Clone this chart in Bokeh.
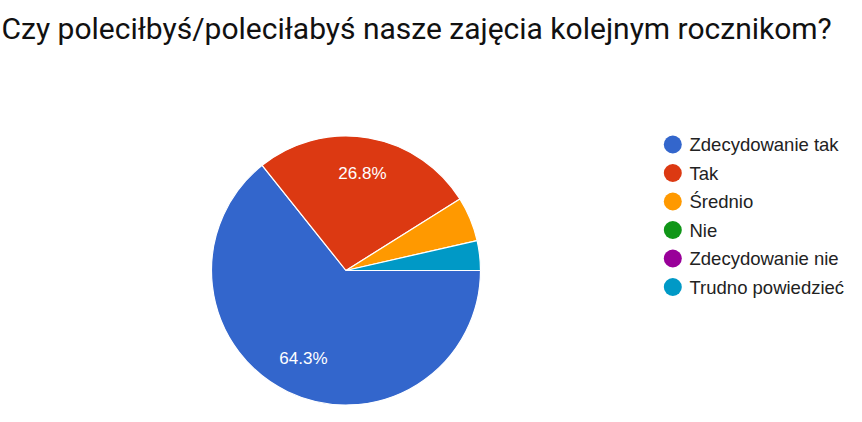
import numpy as np
from bokeh.plotting import figure
from bokeh.models import Range1d, ColumnDataSource, Label
from bokeh.core.properties import value
from bokeh.embed import file_html
from bokeh.resources import INLINE

title_text = "Czy poleciłbyś/poleciłabyś nasze zajęcia kolejnym rocznikom?"
categories = ["Zdecydowanie tak", "Tak", "Średnio", "Nie", "Zdecydowanie nie", "Trudno powiedzieć"]
counts = [36, 15, 3, 0, 0, 2]
colors = ["#3366cc", "#dc3912", "#ff9900", "#109618", "#990099", "#0099c6"]

W, H = 862, 422
p = figure(width=W, height=H, output_backend="svg", toolbar_location=None,
           x_range=Range1d(0, W), y_range=Range1d(0, H), min_border=0,
           outline_line_color=None)
p.axis.visible = False
p.grid.visible = False
p.background_fill_color = "white"
p.border_fill_color = "white"

cx, cy, r = 345.5, H - 270, 134.5
vals = np.array(counts, dtype=float)
frac = vals / vals.sum()
cum = np.concatenate([[0], np.cumsum(frac)])
start = -cum[1:] * 2 * np.pi
end = -cum[:-1] * 2 * np.pi
mask = frac > 0
src = ColumnDataSource(dict(start=start[mask], end=end[mask], color=[c for c, m in zip(colors, mask) if m]))
p.wedge(x=cx, y=cy, radius=r, start_angle="start", end_angle="end", direction="anticlock",
        fill_color="color", line_color="white", line_width=1.2, source=src)

# percentage labels
mid = -(cum[:-1] + cum[1:]) / 2 * 2 * np.pi
lr = 0.73 * r
lx, ly, lt = [], [], []
for f, a in zip(frac, mid):
    if f >= 0.1:
        lx.append(cx + lr * np.cos(a))
        ly.append(cy + lr * np.sin(a))
        lt.append(f"{f*100:.1f}%")
p.text(x=lx, y=ly, text=lt, text_color="white", text_font=value("Liberation Sans"),
       text_font_size="17px", text_align="center", text_baseline="middle")

# legend
row0, step = H - 144, 28.5
ys = [row0 - i * step for i in range(len(categories))]
p.scatter(x=[672.3] * len(categories), y=ys, size=18, color=colors, line_color=None)
p.text(x=[689] * len(categories), y=ys, text=categories, text_color="#222222",
       text_font=value("Liberation Sans"), text_font_size="18.5px", text_baseline="middle")

p.add_layout(Label(x=1, y=H - 27.5, text=title_text, text_font="Roboto", text_font_size="30px",
                   text_color="#111111", text_baseline="alphabetic"))

open("out.html", "w").write(file_html(p, INLINE))
